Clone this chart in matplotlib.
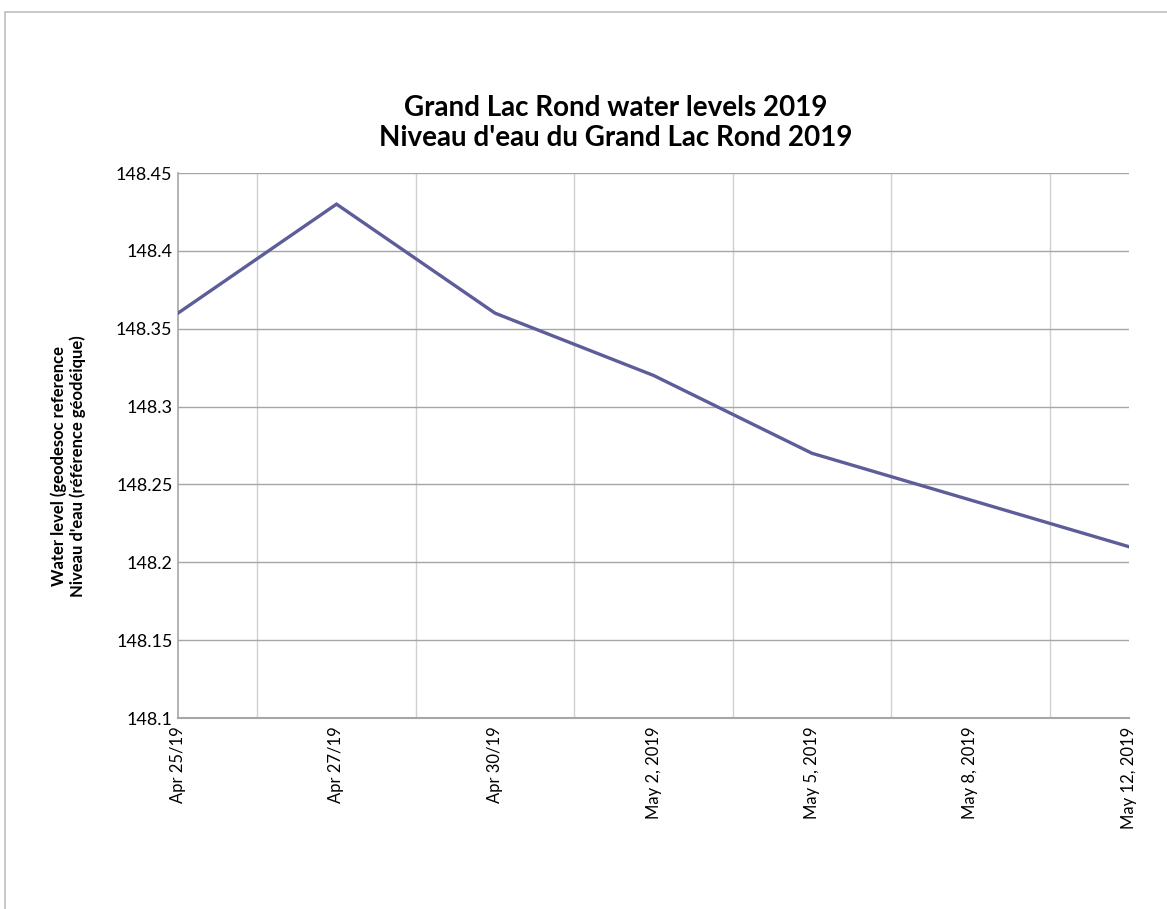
import matplotlib
matplotlib.use("Agg")
import matplotlib.pyplot as plt
from matplotlib.patches import Rectangle
from matplotlib.ticker import FixedLocator

dates = ["Apr 25/19", "Apr 27/19", "Apr 30/19", "May 2, 2019", "May 5, 2019", "May 8, 2019", "May 12, 2019"]
levels = [148.36, 148.43, 148.36, 148.32, 148.27, 148.24, 148.21]
y_ticks = [148.1, 148.15, 148.2, 148.25, 148.3, 148.35, 148.4, 148.45]
y_tick_labels = ["148.1", "148.15", "148.2", "148.25", "148.3", "148.35", "148.4", "148.45"]

plt.rcParams['font.family'] = ['Lato', 'DejaVu Sans']

W, H = 1167, 909
fig = plt.figure(figsize=(W / 100, H / 100), dpi=100)

# outer frame (top and left visible)
fig.patches.append(Rectangle((5 / W, -0.1), 1.2, (H - 12) / H + 0.1, transform=fig.transFigure,
                             fill=False, edgecolor="#bfbfbf", linewidth=1.2))

left, right, top, bottom = 178, 1129, 173, 718
ax = fig.add_axes([left / W, 1 - bottom / H, (right - left) / W, (bottom - top) / H])

x = list(range(len(dates)))
ax.plot(x, levels, color="#5D5D99", linewidth=2.4, solid_joinstyle="miter", zorder=3)

ax.set_xlim(0, len(dates) - 1)
ax.set_ylim(148.1, 148.45)
ax.set_yticks(y_ticks)
ax.set_yticklabels(y_tick_labels, fontsize=13)
ax.set_xticks(x)
ax.set_xticklabels(dates, rotation=90, fontsize=12)
ax.xaxis.set_minor_locator(FixedLocator([i + 0.5 for i in range(len(dates) - 1)]))

ax.grid(axis="y", which="major", color="#a6a6a6", linewidth=1)
ax.grid(axis="x", which="minor", color="#d0d0d0", linewidth=1)
ax.grid(axis="x", which="major", visible=False)

for s in ["top", "right"]:
    ax.spines[s].set_visible(False)
ax.spines["left"].set_color("#a6a6a6")
ax.spines["bottom"].set_color("#a6a6a6")
ax.spines["left"].set_linewidth(1.2)
ax.spines["bottom"].set_linewidth(1.5)
ax.tick_params(axis="both", which="both", length=0)
ax.tick_params(axis="y", pad=4)
ax.tick_params(axis="x", pad=6)

fig.text(68 / W, 1 - 466 / H, "Water level (geodesoc reference\nNiveau d'eau (référence géodéique)",
         rotation=90, ha="center", va="center", fontsize=12, fontweight="bold", linespacing=1.2)

fig.text(616 / W, 1 - 123 / H, "Grand Lac Rond water levels 2019\nNiveau d'eau du Grand Lac Rond 2019",
         ha="center", va="center", fontsize=20, fontweight="bold", linespacing=1.2)

fig.savefig("out.png", dpi=100, facecolor="white")
